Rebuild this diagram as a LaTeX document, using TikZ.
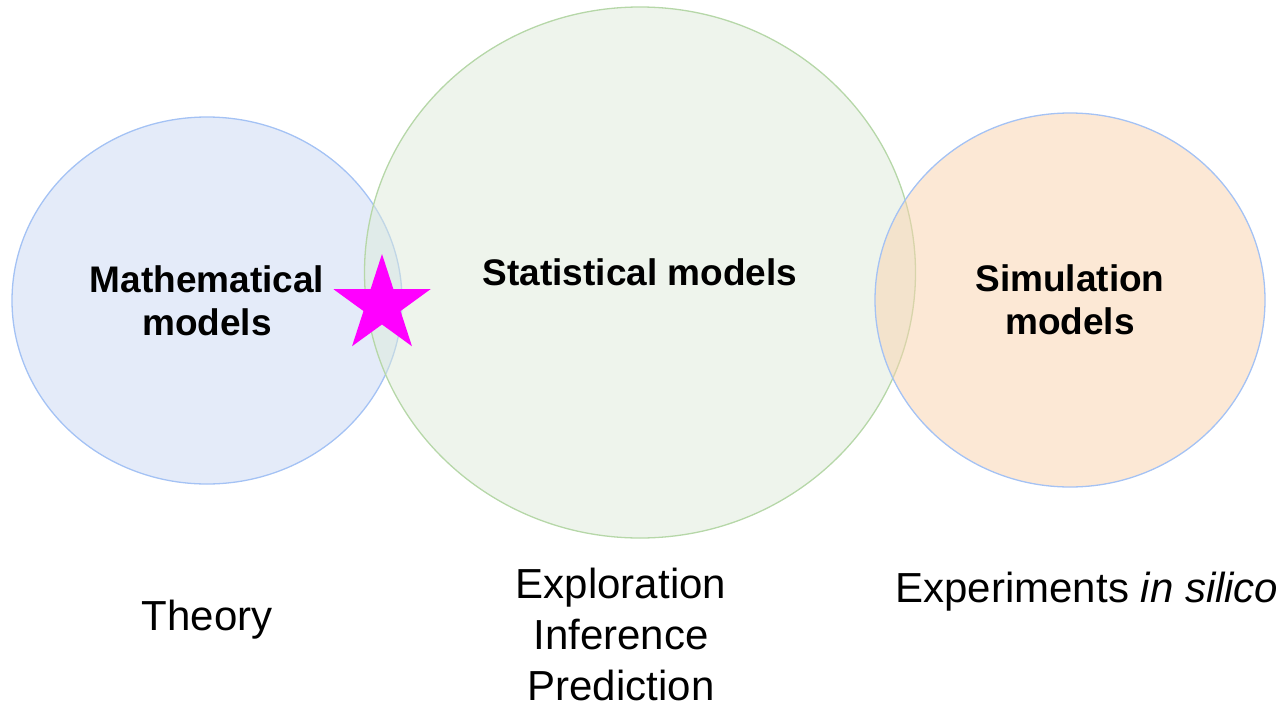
\documentclass[tikz,border=0pt]{standalone}
\usepackage{fontspec}
\setmainfont{Liberation Sans}
\usetikzlibrary{shapes.geometric}
\definecolor{strokeblue}{HTML}{A4C2F4}
\definecolor{strokegreen}{HTML}{B6D7A8}
\definecolor{fillblue}{HTML}{C9D8F4}
\definecolor{fillgreen}{HTML}{DDEAD9}
\definecolor{fillorange}{HTML}{F9D2AC}
\definecolor{starmag}{HTML}{FF00FF}
\tikzset{
  venn/.style={ellipse, inner sep=0pt, line width=1.3pt, fill opacity=0.5, text opacity=1,
    align=center, font=\fontsize{37}{43}\selectfont\bfseries},
  caption/.style={align=center, font=\fontsize{42}{51}\selectfont, inner sep=0pt}
}
\begin{document}
\begin{tikzpicture}[x=1pt,y=-1pt]
\useasboundingbox (0,0) rectangle (1287,704);
\node[venn, fill=fillblue, draw=strokeblue, minimum width=390pt, minimum height=367pt] (math) at (207,300.5) {Mathematical\\models};
\node[venn, fill=fillgreen, draw=strokegreen, minimum width=551pt, minimum height=531pt] (stat) at (640,272.5) {Statistical models};
\node[venn, fill=fillorange, draw=strokeblue, minimum width=390pt, minimum height=374pt] (sim) at (1070,300) {Simulation\\models};
\node[star, star points=5, star point ratio=2.618, minimum size=102pt, inner sep=0pt, fill=starmag] (star) at (382,305) {};
\node[caption] (theory) at (207,620) {Theory};
\node[caption] (explore) at (621,634) {Exploration\\Inference\\Prediction};
\node[caption] (exper) at (1087,592) {Experiments \textit{in silico}};
\end{tikzpicture}
\end{document}
